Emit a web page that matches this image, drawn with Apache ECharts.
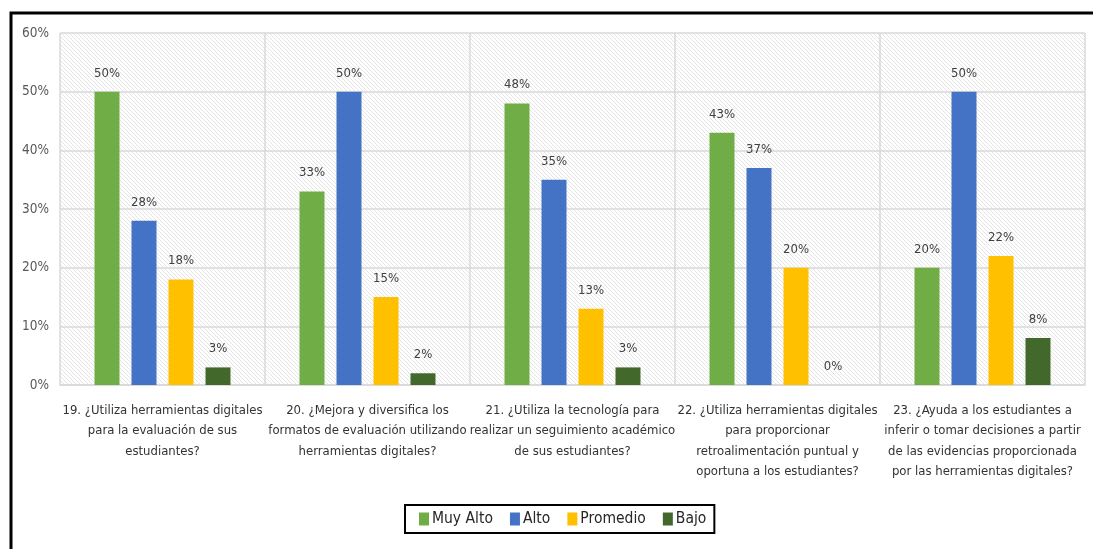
<!DOCTYPE html>
<html><head><meta charset="utf-8">
<script src="https://cdn.jsdelivr.net/npm/echarts@6/dist/echarts.min.js"></script>
<style>html,body{margin:0;padding:0;background:#fff}#c{width:1093px;height:549px}</style>
</head><body><div id="c"></div>
<script>
// make canvas text use the condensed face when available
(function(){
  const P = CanvasRenderingContext2D.prototype;
  const d = Object.getOwnPropertyDescriptor(P, 'font');
  if (d && 'fontStretch' in P) {
    Object.defineProperty(P, 'font', {
      configurable: true,
      get: function(){ return d.get.call(this); },
      set: function(v){ d.set.call(this, v); try { this.fontStretch = 'condensed'; } catch(e){} }
    });
  }
})();

const categories = [
  "19. ¿Utiliza herramientas digitales\npara la evaluación de sus\nestudiantes?",
  "20. ¿Mejora y diversifica los\nformatos de evaluación utilizando\nherramientas digitales?",
  "21. ¿Utiliza la tecnología para\nrealizar un seguimiento académico\nde sus estudiantes?",
  "22. ¿Utiliza herramientas digitales\npara proporcionar\nretroalimentación puntual y\noportuna a los estudiantes?",
  "23. ¿Ayuda a los estudiantes a\ninferir o tomar decisiones a partir\nde las evidencias proporcionada\npor las herramientas digitales?"
];
const seriesNames = ["Muy Alto", "Alto", "Promedio", "Bajo"];
const muyAlto = [50, 33, 48, 43, 20];
const alto = [28, 50, 35, 37, 50];
const promedio = [18, 15, 13, 20, 22];
const bajo = [3, 2, 3, 0, 8];
const colors = ["#70ad47", "#4472c4", "#ffc000", "#43682b"];

const FONT = '"DejaVu Sans",sans-serif';

// hatch pattern
const pc = document.createElement('canvas');
pc.width = 4; pc.height = 4;
const g = pc.getContext('2d');
g.fillStyle = '#ffffff'; g.fillRect(0,0,4,4);
g.strokeStyle = '#e4e4e4'; g.lineWidth = 1;
g.beginPath();
g.moveTo(-1,-1); g.lineTo(5,5);
g.moveTo(-1,3); g.lineTo(1,5);
g.moveTo(3,-1); g.lineTo(5,1);
g.stroke();

const chart = echarts.init(document.getElementById('c'));
const data = [muyAlto, alto, promedio, bajo];
chart.setOption({
  animation: false,
  grid: {left: 60, right: 8, top: 33, bottom: 164, show: true,
    backgroundColor: {image: pc, repeat: 'repeat'}, borderWidth: 0},
  legend: {
    left: 405, top: 505, data: seriesNames,
    icon: 'rect', itemWidth: 10, itemHeight: 13, itemGap: 17,
    borderColor: '#000', borderWidth: 2, padding: [6, 8, 6, 14],
    textStyle: {fontFamily: FONT, fontSize: 15.5, color: '#262626', padding: [0,0,0,-2]}
  },
  xAxis: {
    type: 'category', data: categories,
    axisLine: {lineStyle: {color: '#d9d9d9', width: 1.5}},
    axisTick: {show: false},
    splitLine: {show: true, lineStyle: {color: '#d9d9d9', width: 1.5}},
    axisLabel: {interval: 0, fontFamily: FONT, fontSize: 13, color: '#333', lineHeight: 20.5, margin: 15}
  },
  yAxis: {
    type: 'value', min: 0, max: 60, interval: 10,
    axisLine: {show: false}, axisTick: {show: false},
    splitLine: {lineStyle: {color: '#d9d9d9', width: 1.5}},
    axisLabel: {formatter: '{value}%', fontFamily: FONT, fontSize: 13.5, color: '#595959', margin: 11}
  },
  series: seriesNames.map((n, i) => ({
    name: n, type: 'bar', data: data[i],
    barWidth: 25, barGap: '48%', barCategoryGap: '34%',
    itemStyle: {color: colors[i]},
    label: {show: true, position: 'top', distance: 12, formatter: '{c}%',
      fontFamily: FONT, fontSize: 13, color: '#404040'}
  })),
  graphic: [{type: 'rect', shape: {x: 11, y: 13, width: 1200, height: 700},
    style: {fill: 'none', stroke: '#000', lineWidth: 3}, silent: true}]
});
</script></body></html>
